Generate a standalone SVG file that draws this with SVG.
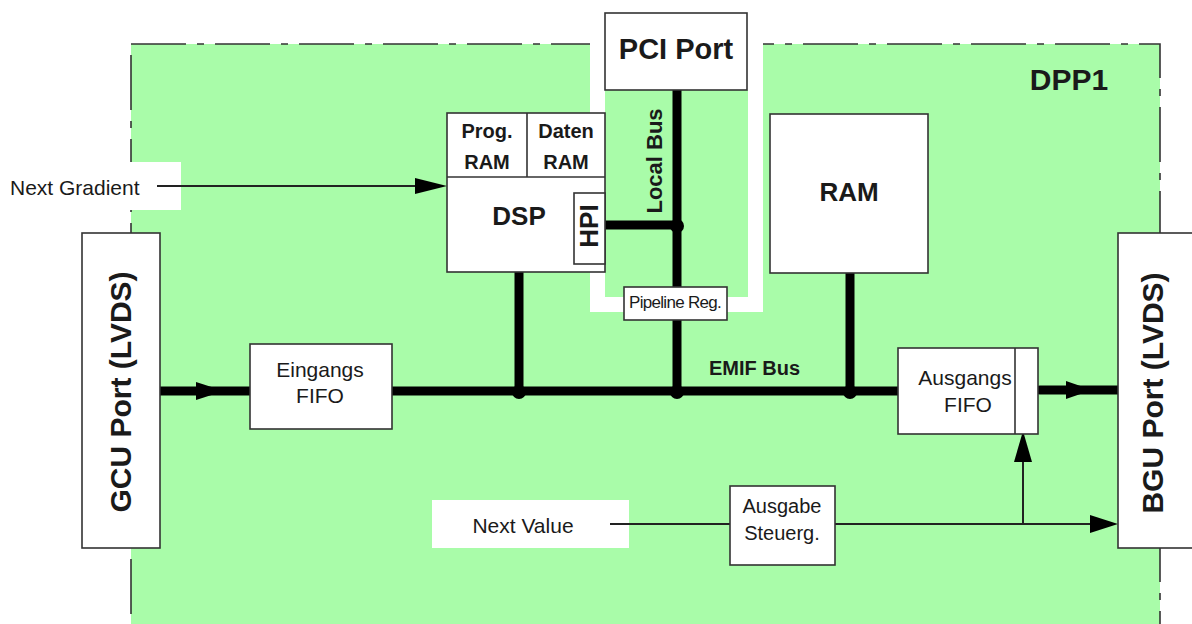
<svg xmlns="http://www.w3.org/2000/svg" width="1192" height="624" viewBox="0 0 1192 624">
<style>
.box{fill:#fff;stroke:#333;stroke-width:1.6}
.t{font-family:"Liberation Sans",Arial,sans-serif;fill:#1a1a1a}
.b{font-weight:bold}
.thick{stroke:#000;stroke-width:9;fill:none}
.thin{stroke:#222;stroke-width:2;fill:none}
.ah{fill:#000}
</style>
<rect width="1192" height="624" fill="#fff"/>
<g id="dpp1">
<rect x="131" y="44" width="1029" height="600" fill="#a9fca9" stroke="#333" stroke-width="1.6" stroke-dasharray="55 11 7 11"/>
<rect x="590" y="38" width="173" height="274" fill="#fff"/>
<rect x="605" y="90" width="143" height="207" fill="#a9fca9"/>
<text class="t b" x="1069" y="90" font-size="30" text-anchor="middle">DPP1</text>
</g>
<g id="next-gradient">
<rect x="0" y="162" width="181" height="48" fill="#fff"/>
<text class="t" x="10" y="195" font-size="21">Next Gradient</text>
</g>
<g id="next-value">
<rect x="432" y="500" width="197" height="48" fill="#fff"/>
<text class="t" x="523" y="533" font-size="21" text-anchor="middle">Next Value</text>
</g>
<g id="connectors">
<line class="thin" x1="157" y1="186" x2="420" y2="186"/>
<polygon class="ah" points="447,186 415,178 415,194"/>
<line class="thick" x1="677" y1="90" x2="677" y2="392"/>
<line class="thick" x1="605" y1="225" x2="677" y2="225"/>
<circle cx="677" cy="226" r="7"/>
<line class="thick" x1="160" y1="391" x2="250" y2="391"/>
<polygon class="ah" points="224,391 196,382 196,400"/>
<line class="thick" x1="392" y1="391" x2="898" y2="391"/>
<line class="thick" x1="519" y1="272" x2="519" y2="391"/>
<line class="thick" x1="850" y1="272" x2="850" y2="391"/>
<circle cx="519" cy="392" r="7"/>
<circle cx="677" cy="392" r="7"/>
<circle cx="850" cy="392" r="7"/>
<line class="thick" x1="1040" y1="390" x2="1118" y2="390" stroke-linecap="round"/>
<polygon class="ah" points="1092,390 1066,381 1066,399"/>
<line class="thin" x1="610" y1="524" x2="730" y2="524"/>
<line class="thin" x1="835" y1="524" x2="1092" y2="524"/>
<polygon class="ah" points="1118,524 1090,515 1090,533"/>
<line class="thin" x1="1023" y1="524" x2="1023" y2="460"/>
<polygon class="ah" points="1023,431 1014,462 1032,462"/>
<text class="t b" x="709" y="375" font-size="20">EMIF Bus</text>
<text class="t b" transform="translate(662,161) rotate(-90)" font-size="22" text-anchor="middle">Local Bus</text>
</g>
<g id="pci-port">
<rect class="box" x="605" y="13" width="142" height="77"/>
<text class="t b" x="676" y="59" font-size="29" text-anchor="middle">PCI Port</text>
</g>
<g id="dsp">
<rect class="box" x="447" y="113" width="158" height="159"/>
<line stroke="#333" stroke-width="1.6" x1="447" y1="177" x2="605" y2="177"/>
<line stroke="#333" stroke-width="1.6" x1="527" y1="113" x2="527" y2="177"/>
<text class="t b" x="487" y="138" font-size="20" text-anchor="middle">Prog.</text>
<text class="t b" x="487" y="169" font-size="20" text-anchor="middle">RAM</text>
<text class="t b" x="566" y="138" font-size="20" text-anchor="middle">Daten</text>
<text class="t b" x="566" y="169" font-size="20" text-anchor="middle">RAM</text>
<text class="t b" x="519" y="225" font-size="26" text-anchor="middle">DSP</text>
</g>
<g id="hpi">
<rect class="box" x="574" y="193" width="31" height="71"/>
<text class="t b" transform="translate(598,226) rotate(-90)" font-size="26" text-anchor="middle">HPI</text>
</g>
<g id="pipeline-reg">
<rect class="box" x="624" y="287" width="103" height="33"/>
<text class="t" x="629" y="308" font-size="17" letter-spacing="-0.7">Pipeline Reg.</text>
</g>
<g id="ram">
<rect class="box" x="770" y="114" width="158" height="159"/>
<text class="t b" x="849" y="201" font-size="26" text-anchor="middle">RAM</text>
</g>
<g id="gcu-port">
<rect class="box" x="82" y="233" width="78" height="315"/>
<text class="t b" transform="translate(131,392) rotate(-90)" font-size="30" text-anchor="middle">GCU Port (LVDS)</text>
</g>
<g id="eingangs-fifo">
<rect class="box" x="250" y="344" width="142" height="85"/>
<text class="t" x="320" y="377" font-size="21" text-anchor="middle">Eingangs</text>
<text class="t" x="320" y="403" font-size="21" text-anchor="middle">FIFO</text>
</g>
<g id="ausgangs-fifo">
<rect class="box" x="898" y="348" width="140" height="86"/>
<line stroke="#333" stroke-width="1.6" x1="1015" y1="348" x2="1015" y2="434"/>
<text class="t" x="965" y="385" font-size="21" text-anchor="middle">Ausgangs</text>
<text class="t" x="968" y="412" font-size="21" text-anchor="middle">FIFO</text>
</g>
<g id="ausgabe-steuerg">
<rect class="box" x="730" y="486" width="105" height="79"/>
<text class="t" x="782" y="513" font-size="20" text-anchor="middle">Ausgabe</text>
<text class="t" x="782" y="540" font-size="20" text-anchor="middle">Steuerg.</text>
</g>
<g id="bgu-port">
<rect class="box" x="1118" y="233" width="80" height="315"/>
<text class="t b" transform="translate(1163,393) rotate(-90)" font-size="30" text-anchor="middle">BGU Port (LVDS)</text>
</g>
</svg>
